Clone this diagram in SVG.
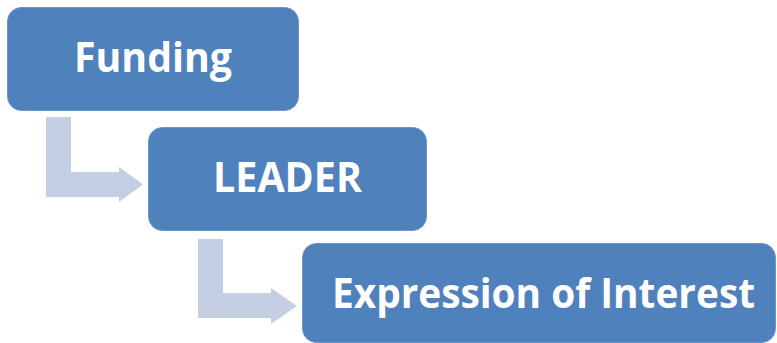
<svg xmlns="http://www.w3.org/2000/svg" width="777" height="343" viewBox="0 0 777 343">
  <style>
    .box { fill: #4F81BD; stroke: #6C95C8; stroke-width: 1; }
    .label { fill: #FFFFFF; font-family: "Open Sans", "Liberation Sans", sans-serif; font-weight: bold; font-size: 42px; text-anchor: middle; }
    .bent { fill: #C5CFE3; }
  </style>
  <rect width="777" height="343" fill="#FFFFFF"/>
  <g id="connectors">
    <!-- bent arrow: Funding to LEADER -->
    <path class="bent" d="M46,117 H71 V172 H119 V167 L143,184.5 L119,202 V197 H46 Z"/>
    <!-- bent arrow: LEADER to Expression of Interest -->
    <path class="bent" d="M198,239 H223 V293 H271 V288 L297,306 L271,324 V318 H198 Z"/>
  </g>
  <g id="node-funding">
    <rect class="box" x="7.5" y="7.5" width="291" height="103" rx="14"/>
    <text class="label" x="153" y="72" textLength="158" lengthAdjust="spacingAndGlyphs">Funding</text>
  </g>
  <g id="node-leader">
    <rect class="box" x="148.5" y="127.5" width="278" height="103" rx="14"/>
    <text class="label" x="287.5" y="192" textLength="149" lengthAdjust="spacingAndGlyphs">LEADER</text>
  </g>
  <g id="node-expression">
    <rect class="box" x="302.5" y="243.5" width="473" height="99" rx="14"/>
    <text class="label" x="543.5" y="308" textLength="423" lengthAdjust="spacingAndGlyphs">Expression of Interest</text>
  </g>
</svg>
